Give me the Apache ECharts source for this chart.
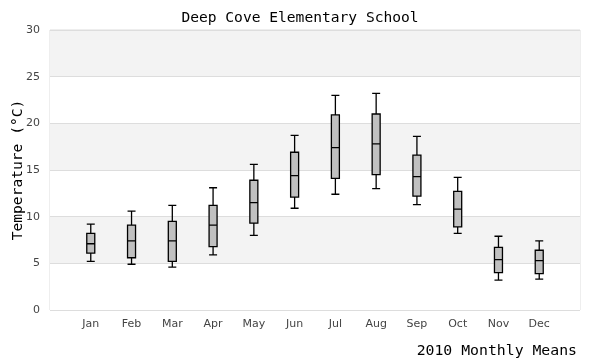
<!DOCTYPE html>
<html><head><meta charset="utf-8">
<script src="https://cdn.jsdelivr.net/npm/echarts@6/dist/echarts.min.js"></script>
<style>html,body{margin:0;padding:0;background:#fff}#c{width:600px;height:360px}</style>
</head><body><div id="c"></div>
<script>
var months = ['Jan','Feb','Mar','Apr','May','Jun','Jul','Aug','Sep','Oct','Nov','Dec'];
var monthIndex = [1, 2, 3, 4, 5, 6, 7, 8, 9, 10, 11, 12];
var lowWhisker = [5.2, 4.9, 4.6, 5.9, 8.0, 10.9, 12.4, 13.0, 11.3, 8.2, 3.2, 3.3];
var q1         = [6.1, 5.6, 5.2, 6.8, 9.3, 12.1, 14.1, 14.5, 12.2, 8.9, 4.0, 3.9];
var median     = [7.1, 7.4, 7.4, 9.1, 11.5, 14.4, 17.4, 17.8, 14.3, 10.8, 5.4, 5.3];
var q3         = [8.2, 9.1, 9.5, 11.2, 13.9, 16.9, 20.9, 21.0, 16.6, 12.7, 6.7, 6.4];
var highWhisker= [9.2, 10.6, 11.2, 13.1, 15.6, 18.7, 23.0, 23.2, 18.6, 14.2, 7.9, 7.4];
var yTicks = [0, 5, 10, 15, 20, 25, 30];

var boxData = months.map(function(m, i){ return [monthIndex[i], lowWhisker[i], q1[i], median[i], q3[i], highWhisker[i]]; });
var mono = 'DejaVu Sans Mono';
var chart = echarts.init(document.getElementById('c'), null, {renderer:'canvas'});
chart.setOption({
  animation: false,
  backgroundColor: '#fff',
  title: [
    {text: 'Deep Cove Elementary School', left: 'center', top: 6,
     textStyle: {fontFamily: mono, fontSize: 14.6, fontWeight: 'normal', color: '#000'}},
    {text: '2010 Monthly Means', right: 18, top: 339,
     textStyle: {fontFamily: mono, fontSize: 14.8, fontWeight: 'normal', color: '#000'}}
  ],
  grid: {left: 50, right: 20, top: 30, bottom: 50, show: true, borderColor: '#ddd', borderWidth: 1,
     backgroundColor: 'transparent', containLabel: false, outerBoundsMode: 'none'},
  xAxis: {type: 'value', min: 0, max: 13, interval: 1,
     axisLine: {show: false}, axisTick: {show: false}, splitLine: {show: false},
     axisLabel: {color: '#444', fontSize: 11, margin: 9, fontFamily: 'DejaVu Sans',
       showMinLabel: false, showMaxLabel: false,
       formatter: function(v){ var i = monthIndex.indexOf(v); return i >= 0 ? months[i] : ''; }}},
  yAxis: {type: 'value', min: yTicks[0], max: yTicks[yTicks.length-1], interval: 5,
     axisLine: {show: false}, axisTick: {show: false},
     axisLabel: {color: '#444', fontSize: 11, margin: 10, fontFamily: 'DejaVu Sans'},
     splitLine: {show: true, lineStyle: {color: '#ddd', width: 1}},
     splitArea: {show: true, areaStyle: {color: ['#ffffff', '#f3f3f3']}},
     name: 'Temperature (°C)', nameLocation: 'middle', nameGap: 24, nameMoveOverlap: false,
     nameTextStyle: {fontFamily: mono, fontSize: 14.6, color: '#000'}},
  series: [{
    type: 'boxplot', data: boxData, layout: 'horizontal',
    boxWidth: [8, 8], silent: true,
    itemStyle: {color: '#c0c0c0', borderColor: '#000', borderWidth: 1.3}
  }]
});
</script></body></html>
